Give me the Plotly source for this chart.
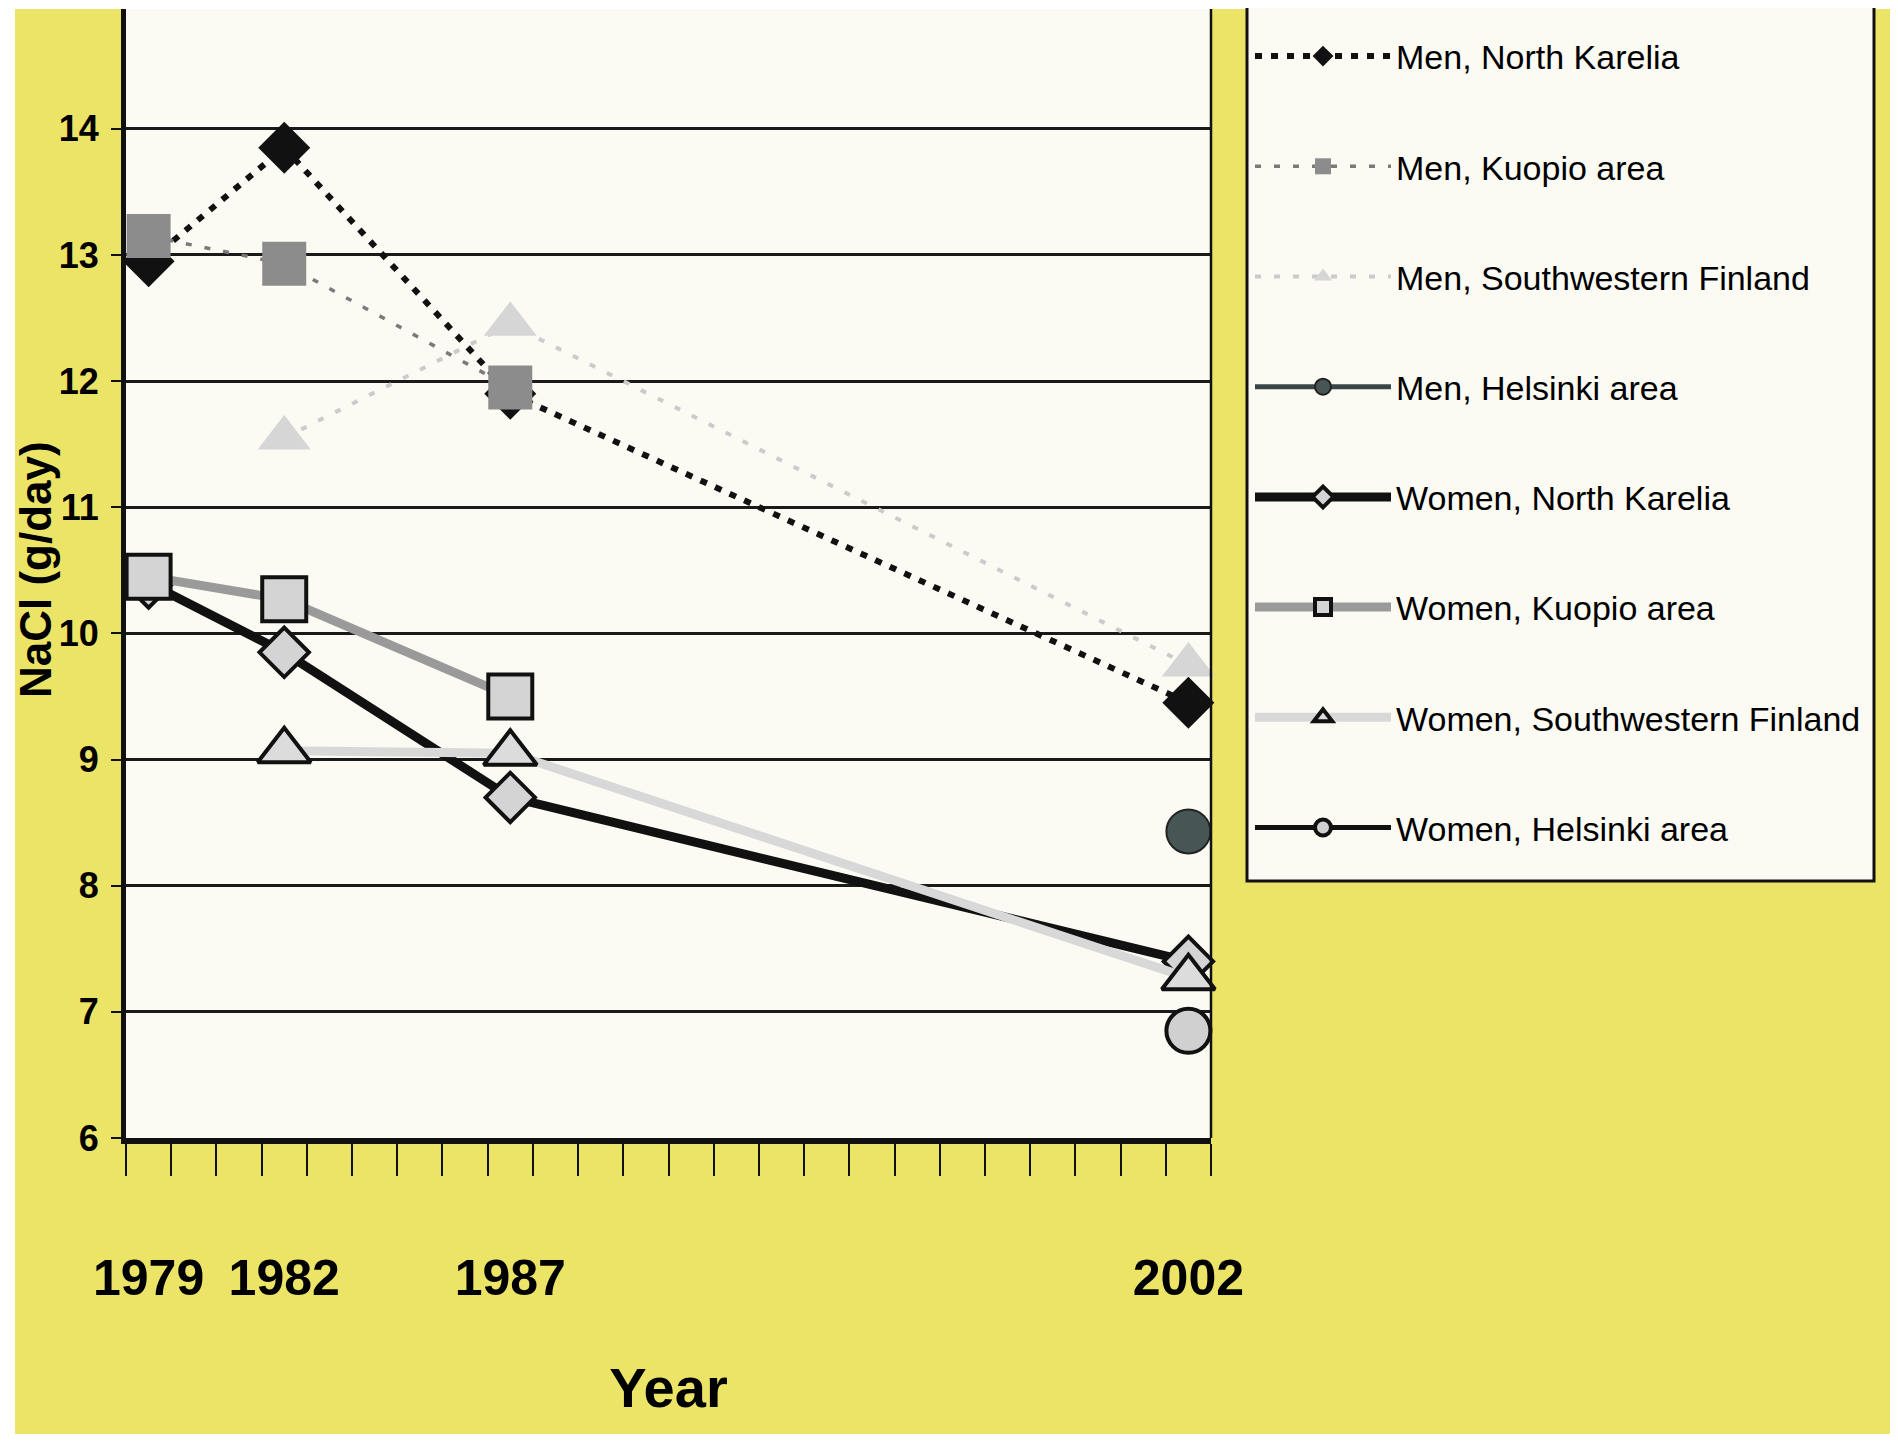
import plotly.graph_objects as go

years = [1979, 1982, 1987, 2002]

men_north_karelia = [12.95, 13.85, 11.9, 9.45]
men_kuopio = [13.15, 12.93, 11.95, None]
men_southwest = [None, 11.55, 12.45, 9.75]
men_helsinki = [None, None, None, 8.43]
women_north_karelia = [10.4, 9.85, 8.7, 7.4]
women_kuopio = [10.45, 10.27, 9.5, None]
women_southwest = [None, 9.07, 9.05, 7.27]
women_helsinki = [None, None, None, 6.85]

y_ticks = [6, 7, 8, 9, 10, 11, 12, 13, 14]
x_tick_labels = ["1979", "1982", "1987", "2002"]

FONT = "Liberation Sans, Arial, sans-serif"
YELLOW = "#ece466"
PLOT_BG = "#fbfaf3"

# figure geometry (the page body adds an 8 px offset)
W, H = 1890, 1426
L, R, T, B = 118, 687, 1, 296
PW, PH = W - L - R, H - T - B


def px_x(x):
    return (x - L) / PW


def px_y(y):
    return (H - B - y) / PH


fig = go.Figure()

series = [
    dict(name="Men, North Karelia", y=men_north_karelia,
         line=dict(color="#111111", width=6, dash="7px,9px"),
         marker=dict(symbol="diamond", size=40, color="#111111", line=dict(width=0))),
    dict(name="Men, Kuopio area", y=men_kuopio,
         line=dict(color="#7a7a7a", width=3.5, dash="6px,13px"),
         marker=dict(symbol="square", size=44, color="#8c8c8c", line=dict(width=0))),
    dict(name="Men, Southwestern Finland", y=men_southwest,
         line=dict(color="#cbcbcb", width=4, dash="6px,13px"),
         marker=dict(symbol="triangle-up", size=46, color="#d6d6d6", line=dict(width=0))),
    dict(name="Men, Helsinki area", y=men_helsinki,
         line=dict(color="#3a4646", width=5),
         marker=dict(symbol="circle", size=44, color="#485555", line=dict(width=2, color="#222222"))),
    dict(name="Women, North Karelia", y=women_north_karelia,
         line=dict(color="#111111", width=9),
         marker=dict(symbol="diamond", size=38, color="#d4d4d4", line=dict(width=4, color="#111111"))),
    dict(name="Women, Kuopio area", y=women_kuopio,
         line=dict(color="#9a9a9a", width=9),
         marker=dict(symbol="square", size=44, color="#d4d4d4", line=dict(width=4, color="#111111"))),
    dict(name="Women, Southwestern Finland", y=women_southwest,
         line=dict(color="#d8d8d8", width=9),
         marker=dict(symbol="triangle-up", size=46, color="#dcdcdc", line=dict(width=4, color="#111111"))),
    dict(name="Women, Helsinki area", y=women_helsinki,
         line=dict(color="#111111", width=5),
         marker=dict(symbol="circle", size=44, color="#d0d0d0", line=dict(width=4, color="#111111"))),
]

for s in series:
    fig.add_trace(go.Scatter(
        x=years, y=s["y"], name=s["name"], legendgroup=s["name"],
        mode="lines+markers", line=s["line"], marker=s["marker"],
        connectgaps=False, cliponaxis=False,
    ))

shapes = [
    # yellow card on the white scan margin
    dict(type="rect", xref="paper", yref="paper", layer="below",
         x0=px_x(7), x1=px_x(W), y0=px_y(H), y1=1.0,
         fillcolor=YELLOW, line=dict(width=0)),
    # plot area background
    dict(type="rect", xref="paper", yref="paper", layer="below",
         x0=0, x1=1, y0=0, y1=1, fillcolor=PLOT_BG, line=dict(width=0)),
    # legend box
    dict(type="rect", xref="paper", yref="paper", layer="below",
         x0=px_x(1239), x1=px_x(1866), y0=px_y(873), y1=px_y(-6),
         fillcolor=PLOT_BG, line=dict(color="#111111", width=3)),
    # right border of the plot area
    dict(type="line", xref="paper", yref="paper", layer="above",
         x0=1, x1=1, y0=0, y1=1, line=dict(color="#111111", width=2.5)),
    # scan edge on the far right
    dict(type="line", xref="paper", yref="paper", layer="above",
         x0=px_x(W - 3), x1=px_x(W - 3), y0=px_y(H), y1=1.0,
         line=dict(color="#444444", width=2)),
]

fig.update_layout(
    width=W, height=H,
    margin=dict(l=L, r=R, t=T, b=B, autoexpand=False),
    paper_bgcolor="white",
    plot_bgcolor=PLOT_BG,
    shapes=shapes,
    showlegend=True,
    legend=dict(
        x=px_x(1242), y=px_y(0), xanchor="left", yanchor="top",
        font=dict(family=FONT, size=34, color="black"),
        bgcolor="rgba(0,0,0,0)", borderwidth=0,
        itemwidth=136, tracegroupgap=63, traceorder="grouped",
        itemsizing="trace", maxheight=1400,
        title=dict(text=" ", font=dict(family=FONT, size=15)),
    ),
    annotations=[
        dict(text="<b>NaCl (g/day)</b>", textangle=-90,
             xref="paper", yref="paper", x=px_x(27), y=px_y(562),
             xanchor="center", yanchor="middle", showarrow=False,
             font=dict(family=FONT, size=44, color="black")),
    ],
    xaxis=dict(
        range=[1978.5, 2002.5],
        tickmode="array", tickvals=years, ticktext=x_tick_labels,
        tickangle=0,
        ticks="", showgrid=False, zeroline=False,
        showline=True, linecolor="#111111", linewidth=6,
        tickfont=dict(family=FONT, size=50, color="black", weight="bold"),
        ticklabelstandoff=91,
        minor=dict(ticks="outside", tickmode="linear", tick0=1978.5, dtick=1,
                   ticklen=32, tickwidth=2, tickcolor="#111111", showgrid=False),
        title=dict(text="Year", standoff=65,
                   font=dict(family=FONT, size=56, color="black", weight="bold")),
    ),
    yaxis=dict(
        range=[6, 14.95],
        tickmode="array", tickvals=y_ticks, ticktext=[str(v) for v in y_ticks],
        ticks="outside", ticklen=10, tickwidth=2, tickcolor="#111111",
        showgrid=True, gridcolor="#1a1a1a", gridwidth=2.5, zeroline=False,
        showline=True, linecolor="#111111", linewidth=5,
        tickfont=dict(family=FONT, size=36, color="black", weight="bold"),
        ticklabelstandoff=5,
    ),
)

fig.write_html("out.html")
